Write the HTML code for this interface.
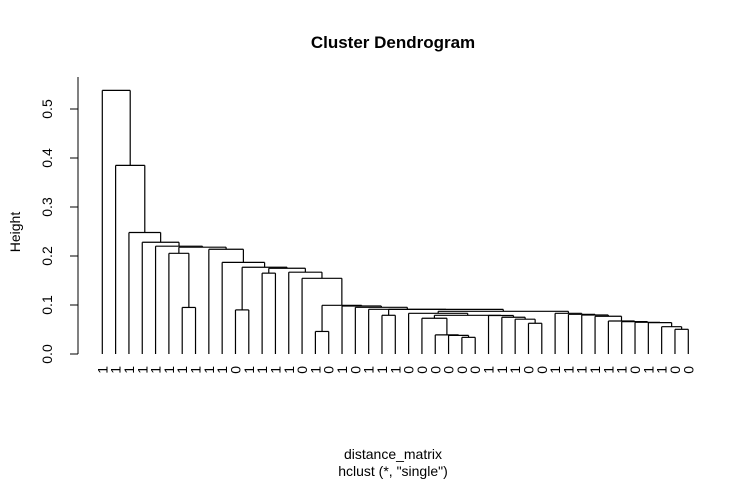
<!DOCTYPE html>
<html><head><meta charset="utf-8"><style>
html,body{margin:0;padding:0;background:#fff;}
svg{display:block;font-family:"Liberation Sans",Arial,sans-serif;}
</style></head><body>
<svg id="chart" width="752" height="484" viewBox="0 0 752 484">
<text x="393" y="48" text-anchor="middle" font-size="17" font-weight="bold">Cluster Dendrogram</text>
<text x="393" y="459" text-anchor="middle" font-size="14">distance_matrix</text>
<text x="393" y="476" text-anchor="middle" font-size="14">hclust (*, "single")</text>
<text transform="translate(20,232) rotate(-90)" text-anchor="middle" font-size="14">Height</text>
<line x1="78" y1="77" x2="78" y2="354" stroke="#000"/>
<g id="yaxis"></g>
<g id="tree"></g>
<g id="labels"></g>
</svg>
<script>
// leaf labels in display order
const leafLabels = ["1","1","1","1","1","1","1","1","1","1","0","1","1","1","1","0","1","0","1","0","1","1","1","0","0","0","0","0","0","1","1","1","0","0","1","1","1","1","1","1","0","1","1","0","0"];
// merges: negative = leaf (-(index+1)), positive = earlier merge (1-based)
const mergeLeft  = [-28,-27,-26,-17,-44,-43,-33,-42,-41,-40,-39,-32,-25,-31,-38,-30,13,-22,-37,-36,-24,-35,21,-11,18,-21,-7,-20,-19,4,-16,-13,-15,32,24,-10,-6,-9,37,-5,-4,-3,-2,-1];
const mergeRight = [-29,1,2,-18,-45,5,-34,6,8,9,10,7,3,12,11,14,16,-23,15,19,17,20,22,-12,23,25,-8,26,28,29,30,-14,31,33,34,35,27,36,38,39,40,41,42,43];
const mergeHeight = [0.034,0.038,0.039,0.046,0.0504,0.0557,0.0627,0.064,0.0647,0.066,0.0673,0.071,0.073,0.075,0.077,0.0785,0.079,0.079,0.0796,0.081,0.083,0.083,0.0871,0.090,0.091,0.0912,0.095,0.0953,0.098,0.0994,0.1545,0.165,0.167,0.175,0.177,0.187,0.2055,0.2137,0.218,0.220,0.228,0.248,0.385,0.538];
const yTicks = [0,0.1,0.2,0.3,0.4,0.5];
const yTickLabels = ["0.0","0.1","0.2","0.3","0.4","0.5"];

const NS="http://www.w3.org/2000/svg";
const xLeaf = i => 102.3 + i*13.318;
const yScale = h => 354 - h*490;

const yaxis=document.getElementById('yaxis');
yTicks.forEach((t,i)=>{
  const l=document.createElementNS(NS,'line');
  l.setAttribute('x1',70);l.setAttribute('x2',78);
  l.setAttribute('y1',yScale(t));l.setAttribute('y2',yScale(t));
  l.setAttribute('stroke','#000');
  
  
  yaxis.appendChild(l);
  const tx=document.createElementNS(NS,'text');
  tx.setAttribute('transform','translate(52,'+yScale(t)+') rotate(-90)');
  tx.setAttribute('text-anchor','middle');
  tx.setAttribute('font-size','14');
  tx.textContent=yTickLabels[i];
  
  
  yaxis.appendChild(tx);
});

const tree=document.getElementById('tree');
const nodeX=[], nodeY=[];
function pos(c){
  if(c<0) return [xLeaf(-c-1), yScale(0)];
  return [nodeX[c-1], nodeY[c-1]];
}
function seg(x1,y1,x2,y2){
  const l=document.createElementNS(NS,'line');
  l.setAttribute('x1',x1);l.setAttribute('y1',y1);l.setAttribute('x2',x2);l.setAttribute('y2',y2);
  l.setAttribute('stroke','#000');l.setAttribute('stroke-width','1.2');
  
  
  tree.appendChild(l);
}
for(let m=0;m<mergeHeight.length;m++){
  const [xa,ya]=pos(mergeLeft[m]);
  const [xb,yb]=pos(mergeRight[m]);
  const y=yScale(mergeHeight[m]);
  seg(xa,ya,xa,y);seg(xb,yb,xb,y);seg(xa,y,xb,y);
  nodeX.push((xa+xb)/2);nodeY.push(y);
}

const labels=document.getElementById('labels');
leafLabels.forEach((s,i)=>{
  const tx=document.createElementNS(NS,'text');
  tx.setAttribute('transform','translate('+(xLeaf(i)+5)+',366) rotate(-90)');
  tx.setAttribute('text-anchor','end');
  tx.setAttribute('font-size','14');
  tx.textContent=s;
  
  
  labels.appendChild(tx);
});
</script>
</body></html>
